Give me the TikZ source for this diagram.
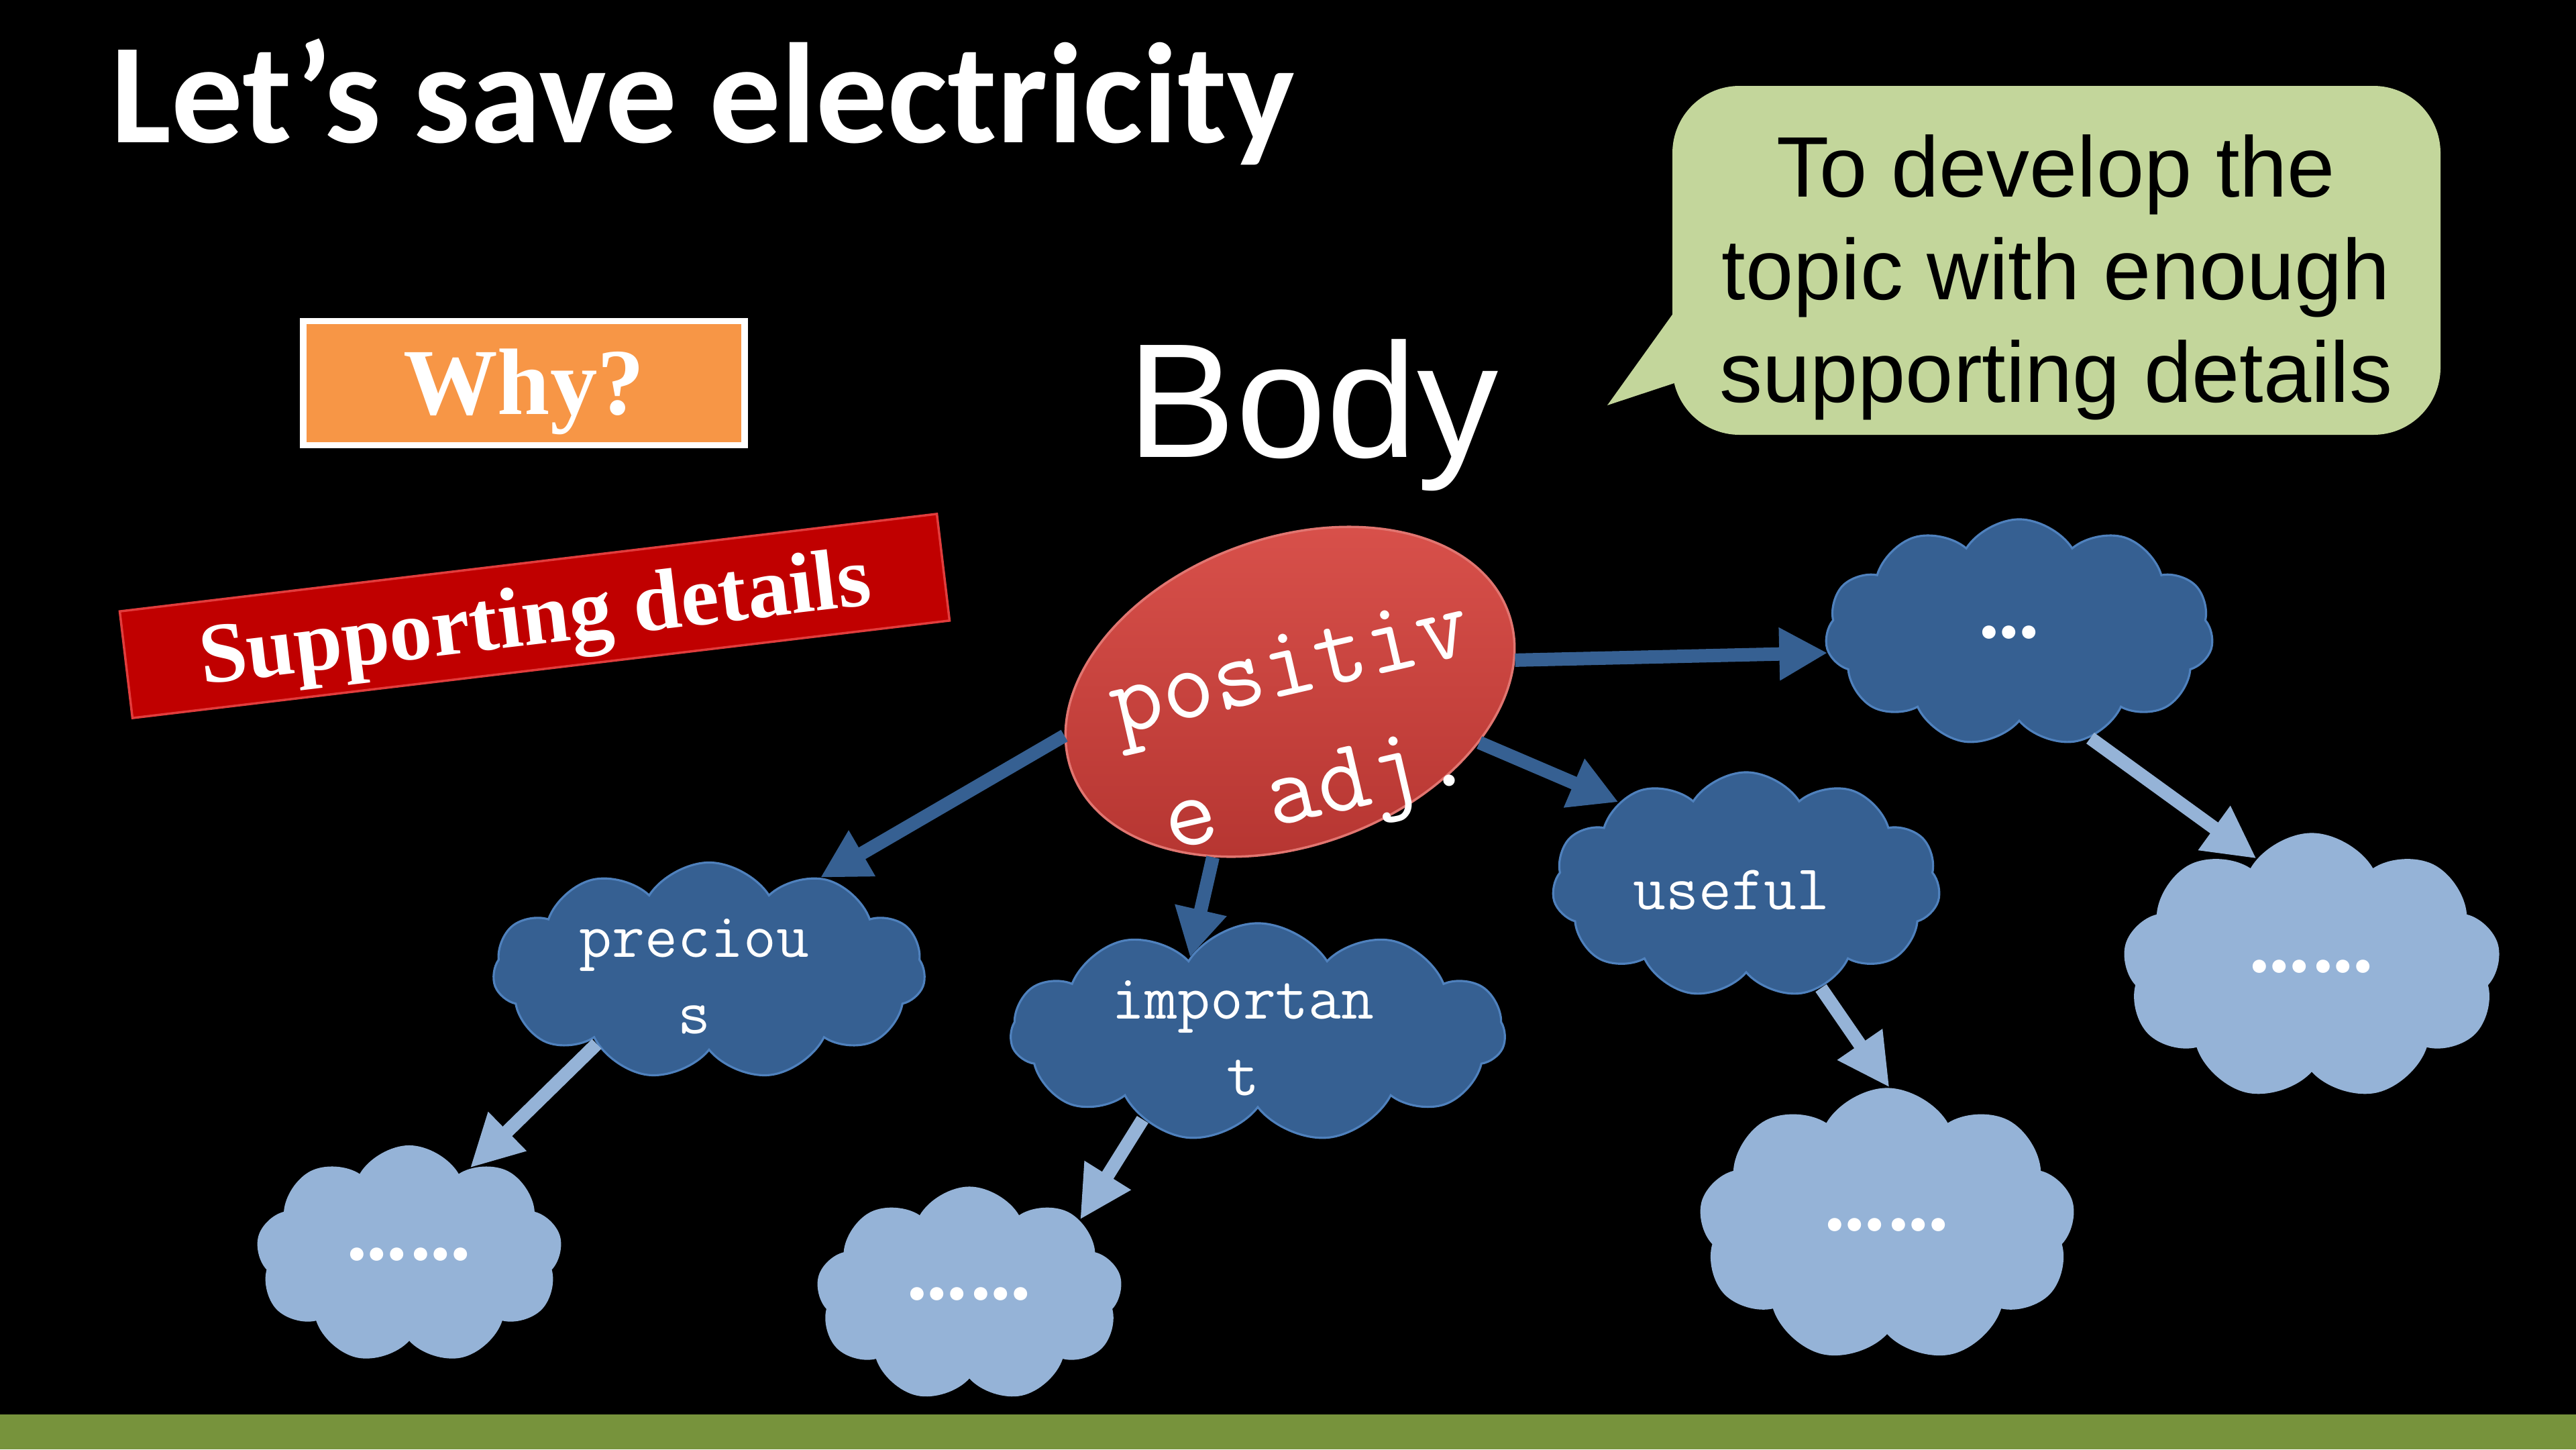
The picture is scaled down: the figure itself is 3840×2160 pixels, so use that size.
\documentclass[tikz,border=0pt]{standalone}
\usepackage{fontspec}
\setmainfont{Liberation Serif}
\newfontfamily\titlefont{Carlito}
\newfontfamily\arialfont{Liberation Sans}
\newfontfamily\dotfont{Carlito}
\usetikzlibrary{shapes.symbols,shapes.geometric,arrows.meta}
\definecolor{bandgreen}{RGB}{119,147,60}
\definecolor{whyorange}{RGB}{247,150,70}
\definecolor{bannerred}{RGB}{192,0,0}
\definecolor{bannerrim}{RGB}{225,60,60}
\definecolor{bubblegreen}{RGB}{195,214,155}
\definecolor{cloudd}{RGB}{54,96,146}
\definecolor{cloudline}{RGB}{79,129,189}
\definecolor{cloudl}{RGB}{149,179,215}
\definecolor{ellA}{RGB}{218,82,76}
\definecolor{ellB}{RGB}{180,52,48}
\newcommand\twolines[1]{\smash{\makebox[0pt]{\kern-0.44cm\raisebox{\dimexpr-0.25em-0.12cm\relax}{\begin{tabular}{@{}c@{}}#1\end{tabular}}}}}
\tikzset{
  darkcloud/.style={cloud, cloud puffs=11, cloud puff arc=115, cloud ignores aspect,
    fill=cloudd, draw=cloudline, line width=0.9pt, inner sep=0pt, text=white,
    font=\ttfamily\fontsize{27}{32.5}\selectfont},
  lightcloud/.style={cloud, cloud puffs=9, cloud puff arc=120, cloud ignores aspect,
    fill=cloudl, inner sep=0pt, text=white,
    font=\dotfont\bfseries\fontsize{38}{44}\selectfont},
  darkarrow/.style={draw=cloudd, line width=0.2cm, -{Triangle[length=0.72cm,width=0.74cm]}},
  lightarrow/.style={draw=cloudl, line width=0.2cm, -{Triangle[length=0.78cm,width=0.76cm]}},
}
\begin{document}
\begin{tikzpicture}[x=0.01cm,y=-0.01cm]
\useasboundingbox (0,0) rectangle (3840,2160);
\fill[black] (0,0) rectangle (3840,2160);
\fill[bandgreen] (0,2108) rectangle (3840,2160);

% title
\node[anchor=base west, inner sep=0pt, text=white, font=\titlefont\bfseries\fontsize{60.5}{72}\selectfont] (title) at (165,212) {Let’s save electricity};

% Why? box
\node[draw=white, line width=2.8pt, fill=whyorange, minimum width=6.58cm, minimum height=1.85cm,
  text=white, font=\bfseries\fontsize{40}{48}\selectfont, text height=0.93cm, text depth=0pt, inner sep=0pt] (why) at (781,571) {Why?};

% Supporting details banner
\node[rotate=6.8, fill=bannerred, draw=bannerrim, line width=1pt, minimum width=12.26cm, minimum height=1.6cm,
  text=white, font=\bfseries\fontsize{36.4}{44}\selectfont, text height=0.85cm, text depth=0pt, inner sep=0pt] (supp) at (797,918) {Supporting details};

% Body
\node[anchor=base west, inner sep=0pt, text=white, font=\arialfont\fontsize{69}{80}\selectfont] (body) at (1680,681) {Body};

% speech bubble
\fill[bubblegreen, rounded corners=1cm] (2493,128) rectangle (3638,648);
\fill[bubblegreen] (2520,431) -- (2396,604) -- (2520,563) -- cycle;
\node[align=center, inner sep=0pt, font=\arialfont\fontsize{36.4}{43.5}\selectfont, text=black] (bubbletext) at (3065,413)
  {To develop the\\topic with enough\\supporting details};

% central ellipse
\node[ellipse, rotate=20, minimum width=6.92cm, minimum height=4.58cm, inner sep=0pt,
  top color=ellA, bottom color=ellB, draw=ellA!80!white, line width=1pt, text=white,
  font=\ttfamily\fontsize{43}{53}\selectfont] (ell) at (1923,1031)
  {\smash{\makebox[0pt]{\raisebox{\dimexpr-0.25em-0.45cm\relax}{\rotatebox[origin=c]{-7}{\begin{tabular}{@{}c@{}}positiv\\e adj.\end{tabular}}}}}};

% dark clouds
\node[darkcloud, minimum width=6.44cm, minimum height=3.23cm] (prec) at (1057,1447) {\twolines{preciou\\s}};
\node[darkcloud, minimum width=7.37cm, minimum height=3.26cm] (imp) at (1875,1539) {\twolines{importan\\t}};
\node[darkcloud, minimum width=5.78cm, minimum height=3.36cm] (use) at (2603,1319) {\twolines{useful}};
\node[darkcloud, minimum width=5.78cm, minimum height=3.38cm, font=\dotfont\bfseries\fontsize{38}{44}\selectfont] (top) at (3010,943) {\kern-0.3cm…};

% light clouds
\node[lightcloud, minimum width=4.56cm, minimum height=3.26cm] (l1) at (610,1870) {……};
\node[lightcloud, minimum width=4.56cm, minimum height=3.21cm] (l2) at (1445,1929) {……};
\node[lightcloud, minimum width=5.61cm, minimum height=4.09cm] (l3) at (2813,1826) {……};
\node[lightcloud, minimum width=5.63cm, minimum height=3.99cm] (l4) at (3446,1441) {……};

% connectors
\draw[darkarrow] (ell.-12) -- (top.186);
\draw[darkarrow] (ell.171) -- (prec.40);
\draw[darkarrow] (ell.225) -- (imp.132);
\draw[darkarrow] (ell.-35) -- (use.147);
\draw[lightarrow] (prec.213) -- (l1.55);
\draw[lightarrow] (imp.217) -- (l2.34);
\draw[lightarrow] (use.-54) -- (l3.89);
\draw[lightarrow] (top.-56) -- (l4.117);
\end{tikzpicture}
\end{document}
